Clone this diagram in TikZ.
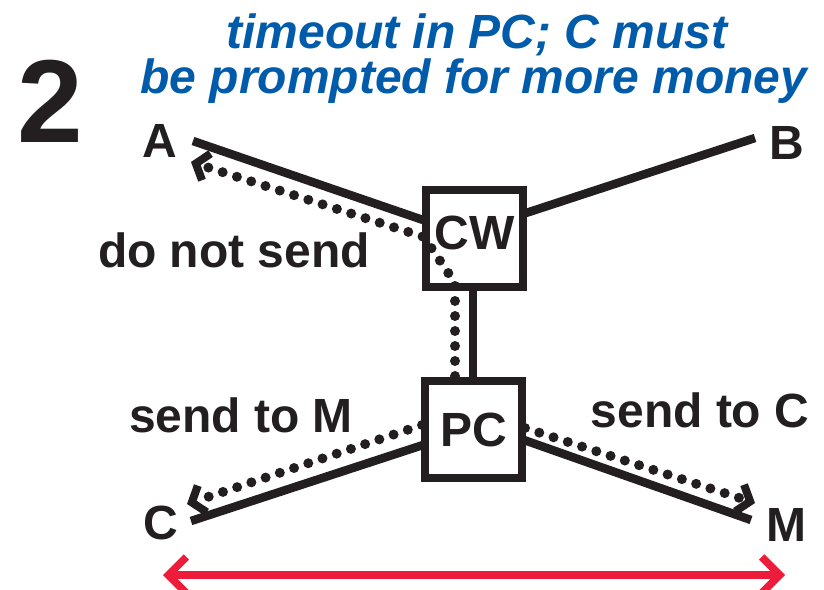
\documentclass[tikz,border=0pt]{standalone}
\usepackage{fontspec}
\setmainfont{Liberation Sans}
\usetikzlibrary{arrows.meta}
\definecolor{ink}{RGB}{35,31,32}
\definecolor{titleblue}{RGB}{0,91,170}
\definecolor{arrowred}{RGB}{237,28,58}
\begin{document}
\begin{tikzpicture}[x=1pt,y=-1pt,
  lbl/.style={font=\fontsize{48}{48}\selectfont\bfseries, text=ink, inner sep=0pt},
  ttl/.style={font=\fontsize{48}{48}\selectfont\bfseries\itshape, text=titleblue, inner sep=0pt, anchor=base},
  boxnode/.style={draw=ink, line width=8pt, minimum size=97pt, inner sep=0pt, fill=white,
    font=\fontsize{48}{48}\selectfont\bfseries, text=ink},
  solidline/.style={draw=ink, line width=8.5pt},
  dotline/.style={draw=ink, line width=10pt, line cap=round, dash pattern=on 0pt off 15pt,
    -{Straight Barb[length=11pt,width=28pt,line width=8pt,line cap=butt,line join=miter]}},
  redarrow/.style={draw=arrowred, line width=7.5pt,
    {Straight Barb[length=18pt,width=36pt,line cap=butt,line join=miter]}-{Straight Barb[length=18pt,width=36pt,line cap=butt,line join=miter]}}
]
\useasboundingbox (0,0) rectangle (824,589);

% big number and title
\node[font=\fontsize{118}{118}\selectfont\bfseries, text=ink, inner sep=0pt, anchor=base] (num) at (50,142) {2};
\node[ttl] (title1) at (477,48) {timeout in PC; C must};
\node[ttl] (title2) at (474,93) {be prompted for more money};

% endpoint labels
\node[lbl] (A) at (160,141) {A};
\node[lbl] (B) at (787,143) {B};
\node[lbl] (C) at (161,523) {C};
\node[lbl] (M) at (786,525) {M};

% edge labels
\node[lbl, anchor=base] (dns) at (234,267) {do not send};
\node[lbl, anchor=base] (stm) at (241,432) {send to M};
\node[lbl, anchor=base] (stc) at (700,427) {send to C};

% connector end points
\coordinate (aend) at (193,141);
\coordinate (bend) at (755,138);
\coordinate (cend) at (191,521);
\coordinate (mend) at (751,520);
\coordinate (cwl) at (423,220);
\coordinate (cwr) at (526,213);
\coordinate (pcl) at (423,445);
\coordinate (pcr) at (524,440);
\coordinate (vs1) at (473,290);
\coordinate (vs2) at (473,378);

% dotted route
\coordinate (d0) at (455,376);
\coordinate (d1) at (455,283);
\coordinate (d2) at (424,237);
\coordinate (atip) at (191,162);
\coordinate (pcdl) at (422,425);
\coordinate (ctip) at (187,504);
\coordinate (pcdr) at (525,428);
\coordinate (mtip) at (755,503);

% solid connectors
\draw[solidline] (aend) -- (cwl);
\draw[solidline] (bend) -- (cwr);
\draw[solidline] (vs1) -- (vs2);
\draw[solidline] (pcl) -- (cend);
\draw[solidline] (pcr) -- (mend);

% boxes
\node[boxnode] (CW) at (474.5,238) {\raisebox{10pt}{CW}};
\node[boxnode] (PC) at (473.5,429.5) {PC};

% dotted arrows
\draw[dotline] (d0) -- (d1) -- (d2) -- (atip);
\draw[dotline] (pcdl) -- (ctip);
\draw[dotline] (pcdr) -- (mtip);

% red double arrow
\coordinate (rl) at (163,575);
\coordinate (rr) at (785,575);
\draw[redarrow] (rl) -- (rr);
\end{tikzpicture}
\end{document}
